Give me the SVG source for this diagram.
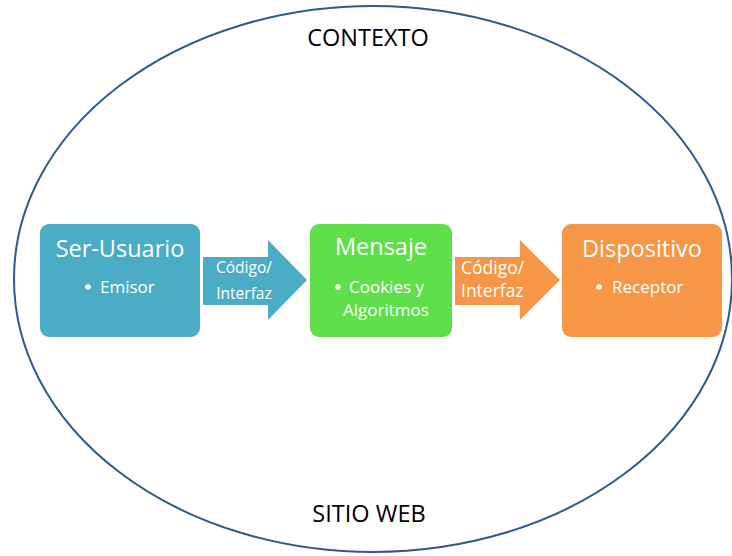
<svg xmlns="http://www.w3.org/2000/svg" width="732" height="556" viewBox="0 0 732 556">
<style>
.t{font-family:"Open Sans","Liberation Sans",sans-serif;fill:#fff}
.title{font-size:23.5px}
.item{font-size:17px}
.lbl{font-size:15.5px}
.lbl2{font-size:17.5px}
.ctx{font-family:"Open Sans","Liberation Sans",sans-serif;font-size:23.5px;fill:#000;text-anchor:middle}
.b{fill:#fff}
</style>
<rect width="732" height="556" fill="#fff"/>
<g id="contexto">
<ellipse cx="373" cy="279" rx="359" ry="273" fill="none" stroke="#2F5A8F" stroke-width="2"/>
<text class="ctx" x="368" y="46">CONTEXTO</text>
<text class="ctx" x="369" y="522">SITIO WEB</text>
</g>
<g id="connectors">
<g id="arrow1">
<polygon points="203,257 268,257 268,240 307,280 268,320 268,305 203,305" fill="#4BACC6"/>
<text class="t lbl" x="244" y="273" text-anchor="middle">Código/</text>
<text class="t lbl" x="244" y="299" text-anchor="middle">Interfaz</text>
</g>
<g id="arrow2">
<polygon points="455,257 520,257 520,240 560,280 520,320 520,305 455,305" fill="#F79646"/>
<text class="t lbl2" x="461" y="274">Código/</text>
<text class="t lbl2" x="461" y="297">Interfaz</text>
</g>
</g>
<g id="ser-usuario">
<rect x="40" y="224" width="160" height="113" rx="9" fill="#4BACC6"/>
<text class="t title" x="120" y="257" text-anchor="middle">Ser-Usuario</text>
<circle class="b" cx="88" cy="287" r="2.8"/>
<text class="t item" x="100" y="293">Emisor</text>
</g>
<g id="mensaje">
<rect x="310" y="224" width="142" height="113" rx="9" fill="#5FE04B"/>
<text class="t title" x="381" y="255" text-anchor="middle">Mensaje</text>
<circle class="b" cx="338" cy="287" r="2.8"/>
<text class="t item" x="349" y="293">Cookies y</text>
<text class="t item" x="343" y="316">Algoritmos</text>
</g>
<g id="dispositivo">
<rect x="562" y="224" width="160" height="113" rx="9" fill="#F79646"/>
<text class="t title" x="642" y="257" text-anchor="middle">Dispositivo</text>
<circle class="b" cx="599" cy="287" r="2.8"/>
<text class="t item" x="612" y="293">Receptor</text>
</g>
</svg>
